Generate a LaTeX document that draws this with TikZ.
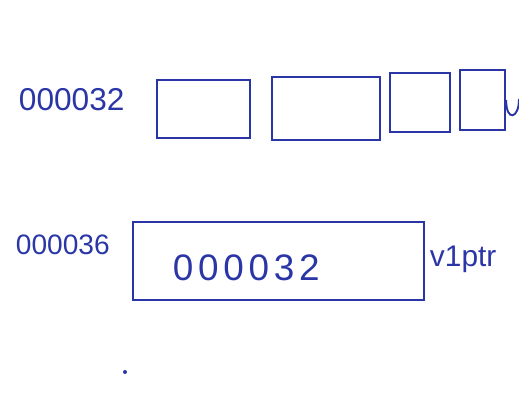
\documentclass[tikz,border=0pt]{standalone}
\usepackage{fontspec}
\setmainfont{Liberation Sans}
\definecolor{ink}{HTML}{2B36A6}
\begin{document}
\begin{tikzpicture}[x=0.02cm,y=-0.02cm,line width=1.1pt,
  every node/.style={text=ink,inner sep=0pt},
  cell/.style={draw=ink,rectangle,line width=1.3pt}]
  \useasboundingbox (0,0) rectangle (519,400);
  % first row: the array at 000032
  \node[anchor=west,font=\fontsize{18}{20}\selectfont] (addra) at (18,100) {000032};
  \node[cell,minimum width=1.86cm,minimum height=1.16cm] (c1) at (203.5,109) {};
  \node[cell,minimum width=2.16cm,minimum height=1.26cm] (c2) at (326,108.5) {};
  \node[cell,minimum width=1.2cm,minimum height=1.18cm] (c3) at (420,102.5) {};
  \node[cell,minimum width=0.9cm,minimum height=1.2cm] (c4) at (482.5,100) {};
  \coordinate (hook) at (519,99);
  \draw[ink] (c4.east) .. controls +(0,22) and +(0,20) .. (hook);
  % second row: the pointer at 000036
  \node[anchor=west,font=\fontsize{16}{18}\selectfont] (addrb) at (15,245) {000036};
  \node[cell,minimum width=5.82cm,minimum height=1.56cm] (ptr) at (278.5,261) {};
  \node[font=\fontsize{21}{24}\selectfont,anchor=west] (val) at (172,268)
    {0\kern2.7pt0\kern2.7pt0\kern2.7pt0\kern2.7pt3\kern2.7pt2};
  \node[anchor=west,font=\fontsize{17}{19}\selectfont] (name) at (429,259) {v1ptr};
  \fill[ink] (125,372) circle (2);
\end{tikzpicture}
\end{document}
